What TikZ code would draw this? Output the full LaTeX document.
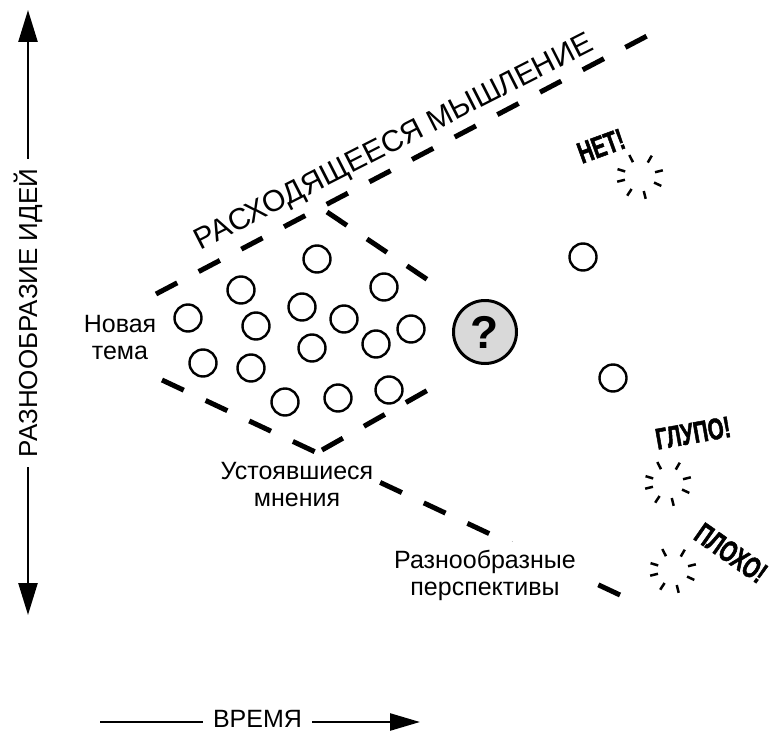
\documentclass[tikz,border=0pt]{standalone}
\usepackage{fontspec}
\setmainfont{Liberation Sans}
\newfontfamily\shoutfont[FakeStretch=0.68,FakeBold=1.6]{Liberation Sans}
\usetikzlibrary{arrows.meta,calc}

\begin{document}
\begin{tikzpicture}[x=1pt,y=-1pt,
  dashline/.style={line width=5pt, dash pattern=on 24pt off 24.2pt},
  idea/.style={circle, draw, line width=2.4pt, minimum size=27pt, inner sep=0pt},
  label/.style={font=\fontsize{25}{27}\selectfont, align=center, fill=white, inner sep=1pt},
  shout/.style={font=\shoutfont\bfseries\fontsize{30}{32}\selectfont, inner sep=0pt},
  ray/.style={line width=2.5pt},
  axis/.style={line width=2.5pt},
]
\useasboundingbox (0,0) rectangle (773,733);

% boundary lines of the thinking funnel
\coordinate (up0) at (156,294);
\coordinate (up1) at (647,36);
\coordinate (lo0) at (162,380);
\coordinate (lo1) at (620,595);
\coordinate (in0) at (327,212);
\coordinate (in1) at (428,280);
\coordinate (vx0) at (322,450);
\coordinate (vx1) at (428,390);
\draw[dashline] (up0) -- (up1);
\draw[dashline] (lo0) -- (lo1);
\draw[dashline] (in0) -- (in1);
\draw[dashline] (vx0) -- (vx1);

\node[font=\fontsize{30}{32}\selectfont, rotate=27, anchor=base] (divergent) at (398,150) {РАСХОДЯЩЕЕСЯ МЫШЛЕНИЕ};

% ideas inside the funnel
\foreach \n/\p in {1/{317,259},2/{241,290},3/{384,287},4/{302,307},5/{188,318},
                   6/{256,326},7/{344,319},8/{411,329},9/{312,348},10/{376,344},
                   11/{203,363},12/{251,368},13/{285,402},14/{338,398},15/{389,390}}
  \node[idea] (idea\n) at (\p) {};

\node[circle, draw, line width=3pt, fill=gray!30, minimum size=63pt, inner sep=0pt,
      font=\bfseries\fontsize{46}{46}\selectfont] (question) at (485,332) {?};

\node[idea] (far1) at (583,257) {};
\node[idea] (far2) at (613,378) {};

% labels
\node[label] (newtopic) at (120,338) {Новая\\тема};
\node[label, inner ysep=4pt] (settled) at (297,485) {Устоявшиеся\\мнения};
\node[label, inner ysep=8pt, inner xsep=8pt] (diverse) at (485,575) {Разнообразные\\перспективы};

% bursts and shouts
\coordinate (b1) at (640,176);
\coordinate (b2) at (668,483);
\coordinate (b3) at (673,570);
\foreach \c in {b1,b2,b3}
  \foreach \a in {-117,-60,-14,25,76,123,166,-163}
    \draw[ray] ($(\c)+(\a:15.5)$) -- ($(\c)+(\a:23.5)$);

\node[shout, rotate=20] (no) at (601,146) {НЕТ!};
\node[shout, rotate=10] (silly) at (693,433) {ГЛУПО!};
\node[shout, rotate=-35] (bad) at (731,553) {ПЛОХО!};

% axes
\node[font=\fontsize{26}{28}\selectfont, rotate=90, inner xsep=10pt, inner ysep=0pt] (variety) at (28,313) {РАЗНООБРАЗИЕ ИДЕЙ};
\coordinate (vtop) at (28,10);
\coordinate (vbot) at (28,615);
\draw[axis, -{Triangle[length=32pt,width=19pt]}] (variety.east) -- (vtop);
\draw[axis, -{Triangle[length=32pt,width=19pt]}] (variety.west) -- (vbot);

\node[font=\fontsize{25}{27}\selectfont, inner xsep=10pt, inner ysep=0pt] (time) at (257.5,719) {ВРЕМЯ};
\coordinate (tl) at (100,722);
\coordinate (tr) at (420,722);
\draw[axis] (tl) -- (tl -| time.west);
\draw[axis, -{Triangle[length=30pt,width=17pt]}] (time.east |- tr) -- (tr);
\end{tikzpicture}
\end{document}
